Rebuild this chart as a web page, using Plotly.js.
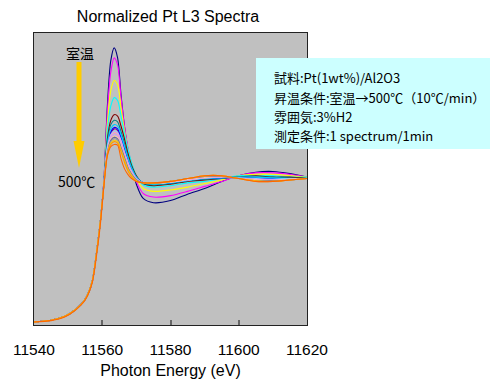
<!DOCTYPE html>
<html>
<head>
<meta charset="utf-8">
<script src="https://cdn.plot.ly/plotly-3.0.1.min.js"></script>
<style>html,body{margin:0;padding:0;background:#fff;}#chart{width:491px;height:383px;}</style>
</head>
<body>
<div id="chart"></div>
<script>
// Photon energy grid (eV)
const energy = [11540, 11545, 11549, 11552, 11555, 11557, 11558.5, 11559.5, 11560.5, 11561.5, 11562.5, 11563.5, 11564.5, 11565.5, 11566.5, 11567.5, 11568.5, 11570, 11572, 11575, 11580, 11585, 11590, 11595, 11600, 11605, 11610, 11615, 11620];

// Normalized absorbance, room temperature -> 500 C
const s01 = [0, 0.012, 0.04, 0.085, 0.16, 0.28, 0.52, 0.72, 1.00, 1.52, 1.84, 1.93, 1.86, 1.60, 1.38, 1.22, 1.11, 0.97, 0.87, 0.84, 0.855, 0.90, 0.94, 0.99, 1.03, 1.055, 1.06, 1.045, 1.02];
const s02 = [0, 0.012, 0.04, 0.085, 0.16, 0.28, 0.52, 0.72, 1.00, 1.48, 1.76, 1.86, 1.81, 1.58, 1.38, 1.23, 1.12, 0.99, 0.905, 0.88, 0.89, 0.92, 0.955, 0.99, 1.03, 1.05, 1.05, 1.04, 1.02];
const s03 = [0, 0.012, 0.04, 0.085, 0.16, 0.28, 0.52, 0.72, 0.99, 1.40, 1.63, 1.70, 1.67, 1.51, 1.35, 1.22, 1.12, 1.01, 0.94, 0.92, 0.93, 0.95, 0.975, 1.00, 1.03, 1.04, 1.04, 1.03, 1.02];
const s04 = [0, 0.012, 0.04, 0.085, 0.16, 0.28, 0.52, 0.72, 0.99, 1.35, 1.52, 1.58, 1.56, 1.45, 1.33, 1.22, 1.13, 1.03, 0.965, 0.95, 0.96, 0.98, 0.99, 1.01, 1.03, 1.03, 1.03, 1.02, 1.02];
const s05 = [0, 0.012, 0.04, 0.085, 0.16, 0.28, 0.52, 0.72, 0.98, 1.23, 1.33, 1.36, 1.35, 1.29, 1.21, 1.14, 1.08, 1.015, 0.98, 0.975, 0.985, 1.00, 1.015, 1.02, 1.015, 1.01, 1.01, 1.01, 1.01];
const s06 = [0, 0.012, 0.04, 0.085, 0.16, 0.28, 0.52, 0.72, 0.98, 1.29, 1.42, 1.46, 1.45, 1.38, 1.29, 1.19, 1.11, 1.03, 0.975, 0.96, 0.97, 0.99, 1.00, 1.01, 1.02, 1.03, 1.02, 1.02, 1.01];
const s07 = [0, 0.012, 0.04, 0.085, 0.16, 0.28, 0.52, 0.72, 0.98, 1.27, 1.39, 1.42, 1.41, 1.34, 1.26, 1.17, 1.10, 1.02, 0.975, 0.965, 0.975, 0.995, 1.005, 1.015, 1.02, 1.02, 1.02, 1.015, 1.01];
const s08 = [0, 0.012, 0.04, 0.085, 0.16, 0.28, 0.52, 0.72, 0.98, 1.24, 1.34, 1.37, 1.36, 1.30, 1.22, 1.14, 1.08, 1.015, 0.98, 0.975, 0.98, 1.00, 1.01, 1.015, 1.015, 1.015, 1.01, 1.01, 1.01];
const s09 = [0, 0.012, 0.04, 0.085, 0.16, 0.28, 0.52, 0.72, 0.98, 1.25, 1.36, 1.39, 1.38, 1.32, 1.24, 1.16, 1.09, 1.02, 0.98, 0.97, 0.98, 0.995, 1.01, 1.015, 1.02, 1.02, 1.015, 1.01, 1.01];
const s10 = [0, 0.012, 0.04, 0.085, 0.16, 0.28, 0.52, 0.72, 0.98, 1.23, 1.32, 1.345, 1.335, 1.28, 1.20, 1.13, 1.07, 1.01, 0.98, 0.975, 0.985, 1.00, 1.015, 1.02, 1.015, 1.01, 1.005, 1.01, 1.01];
const s11 = [0, 0.012, 0.04, 0.085, 0.16, 0.28, 0.52, 0.72, 0.98, 1.22, 1.31, 1.335, 1.325, 1.27, 1.19, 1.12, 1.065, 1.01, 0.98, 0.975, 0.985, 1.00, 1.015, 1.02, 1.01, 1.005, 1.0, 1.005, 1.01];
const s12 = [0, 0.012, 0.04, 0.085, 0.16, 0.28, 0.52, 0.72, 0.98, 1.21, 1.30, 1.32, 1.31, 1.25, 1.18, 1.11, 1.06, 1.005, 0.98, 0.975, 0.985, 1.005, 1.02, 1.02, 1.01, 1.0, 1.0, 1.005, 1.01];
const s13 = [0, 0.012, 0.04, 0.085, 0.16, 0.28, 0.52, 0.72, 0.97, 1.20, 1.29, 1.31, 1.30, 1.24, 1.17, 1.10, 1.05, 1.0, 0.98, 0.975, 0.985, 1.005, 1.02, 1.025, 1.01, 1.0, 0.995, 1.005, 1.01];
const s14 = [0, 0.012, 0.04, 0.085, 0.16, 0.28, 0.52, 0.72, 0.97, 1.19, 1.28, 1.30, 1.29, 1.23, 1.16, 1.09, 1.045, 1.0, 0.98, 0.975, 0.99, 1.01, 1.025, 1.025, 1.01, 0.995, 0.995, 1.0, 1.01];
const s15 = [0, 0.012, 0.04, 0.085, 0.16, 0.28, 0.52, 0.72, 0.97, 1.19, 1.27, 1.29, 1.28, 1.22, 1.15, 1.085, 1.04, 0.995, 0.98, 0.975, 0.99, 1.01, 1.025, 1.025, 1.01, 0.995, 0.99, 1.0, 1.01];
const s16 = [0, 0.012, 0.04, 0.085, 0.16, 0.28, 0.52, 0.72, 0.97, 1.18, 1.26, 1.28, 1.27, 1.21, 1.14, 1.075, 1.035, 0.995, 0.98, 0.98, 0.99, 1.01, 1.03, 1.03, 1.01, 0.995, 0.99, 1.0, 1.01];
const s17 = [0, 0.012, 0.04, 0.085, 0.16, 0.28, 0.52, 0.72, 0.97, 1.18, 1.25, 1.27, 1.26, 1.20, 1.125, 1.065, 1.025, 0.99, 0.98, 0.98, 0.99, 1.01, 1.03, 1.03, 1.01, 0.99, 0.99, 1.0, 1.01];
const s18 = [0, 0.01, 0.035, 0.08, 0.155, 0.27, 0.50, 0.70, 0.96, 1.17, 1.235, 1.25, 1.245, 1.15, 1.08, 1.04, 1.012, 0.99, 0.98, 0.98, 0.99, 1.01, 1.03, 1.03, 1.01, 0.99, 0.99, 1.0, 1.01];

const seriesList = [s01, s02, s03, s04, s05, s06, s07, s08, s09, s10, s11, s12, s13, s14, s15, s16, s17, s18];
const seriesColors = ['#000080', '#FF00FF', '#FFFF00', '#00FFFF', '#800080', '#800000', '#008080', '#0000FF', '#00CCFF', '#99CCFF', '#FF99CC', '#CC99FF', '#FFCC99', '#666699', '#969696', '#FFCC00', '#FF9900', '#FF6600'];

const xTicks = [11540, 11560, 11580, 11600, 11620];
const infoLines = ['試料:Pt(1wt%)/Al2O3', '昇温条件:室温→500℃（10℃/min）', '雰囲気:3%H2', '測定条件:1 spectrum/1min'];

const latin = 'Liberation Sans, Arial, sans-serif';
const jp = 'Noto Sans CJK JP, sans-serif';

const traces = seriesList.map((ys, i) => ({
  x: energy, y: ys, type: 'scatter', mode: 'lines',
  line: {color: seriesColors[i], width: 1.1, shape: 'spline', smoothing: 0.8},
  hoverinfo: 'skip', showlegend: false
}));

// paper coords helpers for plot area (l=34, t=33, w=273, h=292)
const px = v => (v - 34) / 273;
const py = v => (325 - v) / 292;

const annotations = [
  {text: '室温', x: px(80), y: py(53), xref: 'paper', yref: 'paper', xanchor: 'center', yanchor: 'middle', showarrow: false, font: {family: jp, size: 14, color: '#000'}},
  {text: '500℃', x: px(76), y: py(181), xref: 'paper', yref: 'paper', xanchor: 'center', yanchor: 'middle', showarrow: false, font: {family: jp, size: 14, color: '#000'}}
];
const lineY = [78, 97.5, 116.5, 135];
infoLines.forEach((t, i) => annotations.push({
  text: t, x: px(272), y: py(lineY[i]), xref: 'paper', yref: 'paper', xanchor: 'left', yanchor: 'middle',
  showarrow: false, font: {family: jp, size: 13, color: '#000'}
}));

const shapes = [
  {type: 'rect', xref: 'paper', yref: 'paper', x0: px(256), x1: px(490), y0: py(149), y1: py(58), fillcolor: '#CCFFFF', line: {width: 0}, layer: 'above'},
  {type: 'rect', xref: 'paper', yref: 'paper', x0: px(76.5), x1: px(81.5), y0: py(142), y1: py(62), fillcolor: '#FFCC00', line: {width: 0}, layer: 'above'},
  {type: 'path', xref: 'paper', yref: 'paper', path: `M ${px(73.5)} ${py(141)} L ${px(84.5)} ${py(141)} L ${px(79)} ${py(168)} Z`, fillcolor: '#FFCC00', line: {width: 0}, layer: 'above'}
];

const layout = {
  width: 491, height: 383,
  margin: {l: 34, r: 184, t: 33, b: 58},
  paper_bgcolor: '#ffffff', plot_bgcolor: '#C0C0C0',
  title: {text: 'Normalized Pt L3 Spectra', x: 168 / 491, xanchor: 'center', xref: 'container', y: 1 - 16 / 383, yanchor: 'middle', yref: 'container', font: {family: latin, size: 16, color: '#000'}},
  xaxis: {
    range: [11540, 11620], tickvals: xTicks, ticktext: xTicks.map(String),
    ticks: 'inside', ticklen: 5, tickwidth: 2, tickcolor: '#666',
    showgrid: false, zeroline: false, showline: true, mirror: true, linecolor: '#222', linewidth: 1,
    tickfont: {family: latin, size: 15.5, color: '#000'}, ticklabelstandoff: 10,
    title: {text: 'Photon Energy (eV)', font: {family: latin, size: 16, color: '#000'}, standoff: 8}
  },
  yaxis: {
    range: [-0.021, 2.035], showticklabels: false, ticks: '', showgrid: false, zeroline: false,
    showline: true, mirror: true, linecolor: '#222', linewidth: 1
  },
  annotations: annotations,
  shapes: shapes
};

Plotly.newPlot('chart', traces, layout, {staticPlot: true, displayModeBar: false});
</script>
</body>
</html>
